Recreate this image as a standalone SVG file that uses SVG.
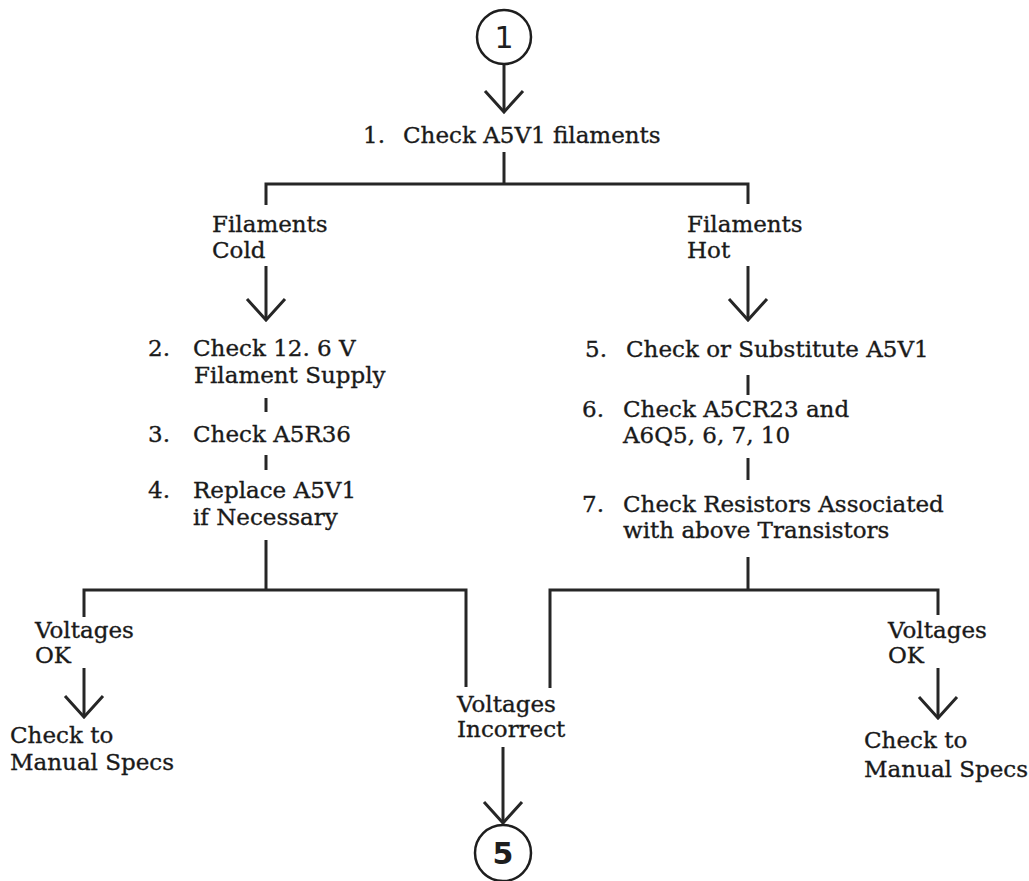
<svg xmlns="http://www.w3.org/2000/svg" width="1029" height="881" viewBox="0 0 1029 881">
<style>
  .t { font-family: "DejaVu Serif", "Liberation Serif", serif; font-size: 23px; fill: #1a1a1a; stroke: #1a1a1a; stroke-width: 0.35; }
  .ln { stroke: #262626; stroke-width: 3; fill: none; stroke-linecap: butt; stroke-linejoin: miter; }
  .ar { stroke: #262626; stroke-width: 3; fill: none; marker-end: url(#v); }
  .cc { stroke: #1e1e1e; stroke-width: 2.5; fill: #fff; }
  .cn { font-family: "DejaVu Sans", "Liberation Sans", sans-serif; font-size: 30px; fill: #1e1e1e; text-anchor: middle; }
</style>
<defs>
  <marker id="v" markerUnits="userSpaceOnUse" markerWidth="50" markerHeight="50" refX="0" refY="0" orient="auto" overflow="visible">
    <path d="M -21 -19 L 0 0 L -21 19" fill="none" stroke="#262626" stroke-width="3"/>
  </marker>
</defs>
<rect width="1029" height="881" fill="#fff"/>

<g id="connectors">
  <line class="ar" x1="504" y1="64" x2="504" y2="112"/>
  <polyline class="ln" points="504,152 504,184"/>
  <polyline class="ln" points="266,205 266,184 748,184 748,204"/>
  <line class="ar" x1="266" y1="266" x2="266" y2="320"/>
  <line class="ar" x1="748" y1="266" x2="748" y2="320"/>
  <line class="ln" x1="266" y1="398" x2="266" y2="412"/>
  <line class="ln" x1="266" y1="455" x2="266" y2="470"/>
  <line class="ln" x1="266" y1="540" x2="266" y2="590"/>
  <polyline class="ln" points="84,617 84,590 466,590 466,687"/>
  <line class="ln" x1="748" y1="375" x2="748" y2="395"/>
  <line class="ln" x1="748" y1="458" x2="748" y2="480"/>
  <line class="ln" x1="748" y1="557" x2="748" y2="590"/>
  <polyline class="ln" points="550,688 550,590 938,590 938,615"/>
  <line class="ar" x1="84" y1="668" x2="84" y2="717"/>
  <line class="ar" x1="938" y1="668" x2="938" y2="718"/>
  <line class="ar" x1="503" y1="747" x2="503" y2="823"/>
</g>

<g id="start">
  <circle class="cc" cx="504" cy="37" r="27"/>
  <text class="cn" x="504" y="48">1</text>
</g>

<g id="step1">
  <text class="t" y="143"><tspan x="363">1.</tspan><tspan x="403">Check A5V1 filaments</tspan></text>
</g>

<g id="filaments-cold">
  <text class="t" x="212" y="232">Filaments</text>
  <text class="t" x="212" y="258">Cold</text>
</g>

<g id="filaments-hot">
  <text class="t" x="687" y="232">Filaments</text>
  <text class="t" x="687" y="258">Hot</text>
</g>

<g id="step2">
  <text class="t" y="356"><tspan x="148">2.</tspan><tspan x="193">Check 12. 6 V</tspan></text>
  <text class="t" x="194" y="383">Filament Supply</text>
</g>

<g id="step3">
  <text class="t" y="442"><tspan x="148">3.</tspan><tspan x="193">Check A5R36</tspan></text>
</g>

<g id="step4">
  <text class="t" y="498"><tspan x="148">4.</tspan><tspan x="193">Replace A5V1</tspan></text>
  <text class="t" x="193" y="525">if Necessary</text>
</g>

<g id="step5">
  <text class="t" y="357"><tspan x="585">5.</tspan><tspan x="626">Check or Substitute A5V1</tspan></text>
</g>

<g id="step6">
  <text class="t" y="417"><tspan x="582">6.</tspan><tspan x="623">Check A5CR23 and</tspan></text>
  <text class="t" x="623" y="443">A6Q5, 6, 7, 10</text>
</g>

<g id="step7">
  <text class="t" y="512"><tspan x="582">7.</tspan><tspan x="623">Check Resistors Associated</tspan></text>
  <text class="t" x="623" y="538">with above Transistors</text>
</g>

<g id="left-ok">
  <text class="t" x="35" y="638">Voltages</text>
  <text class="t" x="35" y="663">OK</text>
</g>

<g id="left-specs">
  <text class="t" x="10" y="743">Check to</text>
  <text class="t" x="10" y="770">Manual Specs</text>
</g>

<g id="incorrect">
  <text class="t" x="457" y="712">Voltages</text>
  <text class="t" x="457" y="737">Incorrect</text>
</g>

<g id="right-ok">
  <text class="t" x="888" y="638">Voltages</text>
  <text class="t" x="888" y="663">OK</text>
</g>

<g id="right-specs">
  <text class="t" x="864" y="748">Check to</text>
  <text class="t" x="864" y="777">Manual Specs</text>
</g>

<g id="end">
  <circle class="cc" cx="503" cy="853" r="28"/>
  <text class="cn" x="503" y="864" font-weight="bold">5</text>
</g>
</svg>
